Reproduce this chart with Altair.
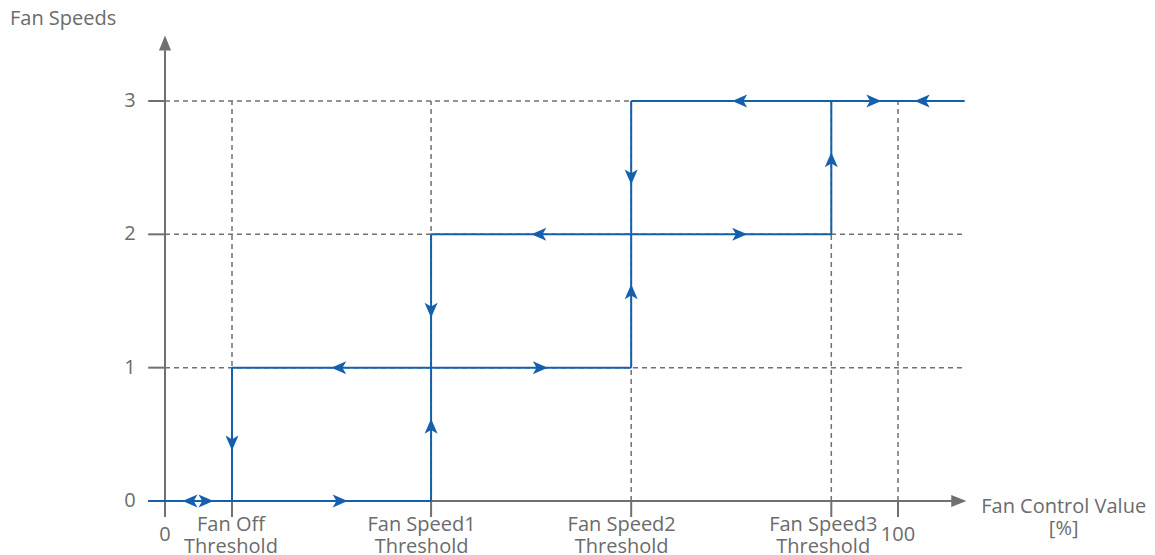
import altair as alt
import pandas as pd

# ---- data ----
threshold_x = [9.14, 36.3, 63.6, 90.9]
threshold_label_x = [9.0, 35.0, 62.3, 89.8]
threshold_labels = ["Fan Off\nThreshold", "Fan Speed1\nThreshold",
                    "Fan Speed2\nThreshold", "Fan Speed3\nThreshold"]
speed_levels = [0, 1, 2, 3]
x_max = 100
x_axis_start = -2.3
x_axis_end = 107.6
x_line_end = 109.1
y_axis_bottom = -0.12
y_axis_end = 3.38

# blue hysteresis path segments
seg_x1 = [x_axis_start, 9.14, 36.3, 63.6, 9.14, 36.3, 63.6, 90.9]
seg_y1 = [0, 1, 2, 3, 0, 0, 1, 2]
seg_x2 = [36.3, 63.6, 90.9, x_line_end, 9.14, 36.3, 63.6, 90.9]
seg_y2 = [0, 1, 2, 3, 1, 2, 3, 3]

# direction arrows on the path
arrow_x = [3.41, 5.59, 23.9, 9.14, 36.3, 36.3, 23.7, 51.2, 51.0, 78.4,
           63.6, 63.6, 78.4, 96.7, 103.3, 90.9]
arrow_y = [0, 0, 0, 0.435, 0.56, 1.43, 1, 1, 2, 2,
           1.57, 2.43, 3, 3, 3, 2.56]
arrow_dir = ["left", "right", "right", "down", "up", "down", "left", "right",
             "left", "right", "up", "down", "left", "right", "left", "up"]

BLUE = "#1560ac"
GRAY = "#707070"
TEXT = "#6b6b6b"
FONT = "Open Sans"

xs = alt.Scale(domain=[-21.42, 133.97], nice=False, zero=False)
ys = alt.Scale(domain=[-0.405, 3.6975], nice=False, zero=False)

# ---- dashed grid ----
hgrid = pd.DataFrame({"y": speed_levels[1:], "x1": 0, "x2": x_line_end})
vgrid = pd.DataFrame({"x": threshold_x + [x_max], "y1": 0, "y2": 3})

hgrid_l = alt.Chart(hgrid).mark_rule(color=GRAY, strokeWidth=1.5, strokeDash=[5, 4]).encode(
    x=alt.X("x1:Q", scale=xs, axis=None), x2="x2:Q", y=alt.Y("y:Q", scale=ys, axis=None))
vgrid_l = alt.Chart(vgrid).mark_rule(color=GRAY, strokeWidth=1.5, strokeDash=[5, 4]).encode(
    x=alt.X("x:Q", scale=xs, axis=None), y=alt.Y("y1:Q", scale=ys, axis=None), y2="y2:Q")

# ---- axes ----
axes_df = pd.DataFrame({"x1": [x_axis_start, 0], "y1": [0, y_axis_bottom],
                        "x2": [x_axis_end, 0], "y2": [0, y_axis_end]})
axes_l = alt.Chart(axes_df).mark_rule(color=GRAY, strokeWidth=2).encode(
    x=alt.X("x1:Q", scale=xs, axis=None), y=alt.Y("y1:Q", scale=ys, axis=None),
    x2="x2:Q", y2="y2:Q")

xt = pd.DataFrame({"x": [0] + threshold_x + [x_max], "y1": y_axis_bottom, "y2": 0})
xticks_l = alt.Chart(xt).mark_rule(color=GRAY, strokeWidth=2).encode(
    x=alt.X("x:Q", scale=xs, axis=None), y=alt.Y("y1:Q", scale=ys, axis=None), y2="y2:Q")
yt = pd.DataFrame({"y": speed_levels, "x1": x_axis_start, "x2": 0})
yticks_l = alt.Chart(yt).mark_rule(color=GRAY, strokeWidth=2).encode(
    y=alt.Y("y:Q", scale=ys, axis=None), x=alt.X("x1:Q", scale=xs, axis=None), x2="x2:Q")

HEAD_PATHS = {"right": "M1,0L-1,-0.8L-1,0.8Z", "up": "M0,-1L-0.8,1L0.8,1Z"}
heads = pd.DataFrame({"x": [108.3, 0], "y": [0, 3.435], "d": ["right", "up"]})
head_layers = []
for d, p in HEAD_PATHS.items():
    head_layers.append(
        alt.Chart(heads[heads.d == d]).mark_point(
            shape=p, filled=True, opacity=1, size=230, strokeWidth=0, color=GRAY).encode(
            x=alt.X("x:Q", scale=xs, axis=None), y=alt.Y("y:Q", scale=ys, axis=None)))

# ---- blue path ----
segs = pd.DataFrame({"x1": seg_x1, "y1": seg_y1, "x2": seg_x2, "y2": seg_y2})
segs_l = alt.Chart(segs).mark_rule(color=BLUE, strokeWidth=2).encode(
    x=alt.X("x1:Q", scale=xs, axis=None), y=alt.Y("y1:Q", scale=ys, axis=None),
    x2="x2:Q", y2="y2:Q")

ARROW_PATHS = {
    "right": "M1,0L-1,-0.87L-0.5,0L-1,0.87Z",
    "left": "M-1,0L1,-0.87L0.5,0L1,0.87Z",
    "up": "M0,-1L-0.87,1L0,0.5L0.87,1Z",
    "down": "M0,1L-0.87,-1L0,-0.5L0.87,-1Z",
}
arrows = pd.DataFrame({"x": arrow_x, "y": arrow_y, "d": arrow_dir})
arrow_layers = []
for d, p in ARROW_PATHS.items():
    arrow_layers.append(
        alt.Chart(arrows[arrows.d == d]).mark_point(
            shape=p, filled=True, opacity=1, size=225, strokeWidth=0, color=BLUE).encode(
            x=alt.X("x:Q", scale=xs, axis=None), y=alt.Y("y:Q", scale=ys, axis=None)))

# ---- text (multi-line labels anchored at their first line) ----
labels = pd.DataFrame({
    "x": [0] + threshold_label_x + [x_max] + [-4.77] * 4 + [122.6, -13.9],
    "y": [-0.255] + [-0.18] * 4 + [-0.255] + speed_levels + [-0.045, 3.615],
    "t": ["0"] + threshold_labels + ["100"] + [str(v) for v in speed_levels]
         + ["Fan Control Value\n[%]", "Fan Speeds"],
})
text_l = alt.Chart(labels).mark_text(
    font=FONT, fontSize=20, color=TEXT, align="center", baseline="middle",
    lineBreak="\n", lineHeight=21.5).encode(
    x=alt.X("x:Q", scale=xs, axis=None), y=alt.Y("y:Q", scale=ys, axis=None), text="t:N")

chart = alt.layer(hgrid_l, vgrid_l, axes_l, xticks_l, yticks_l, *head_layers,
                  segs_l, *arrow_layers, text_l).properties(
    width=1139, height=547, autosize=alt.AutoSizeParams(type="none"), padding=0,
    background="white").configure_view(stroke=None)

chart.save("out.html", embed_options={"renderer": "svg", "actions": False})
